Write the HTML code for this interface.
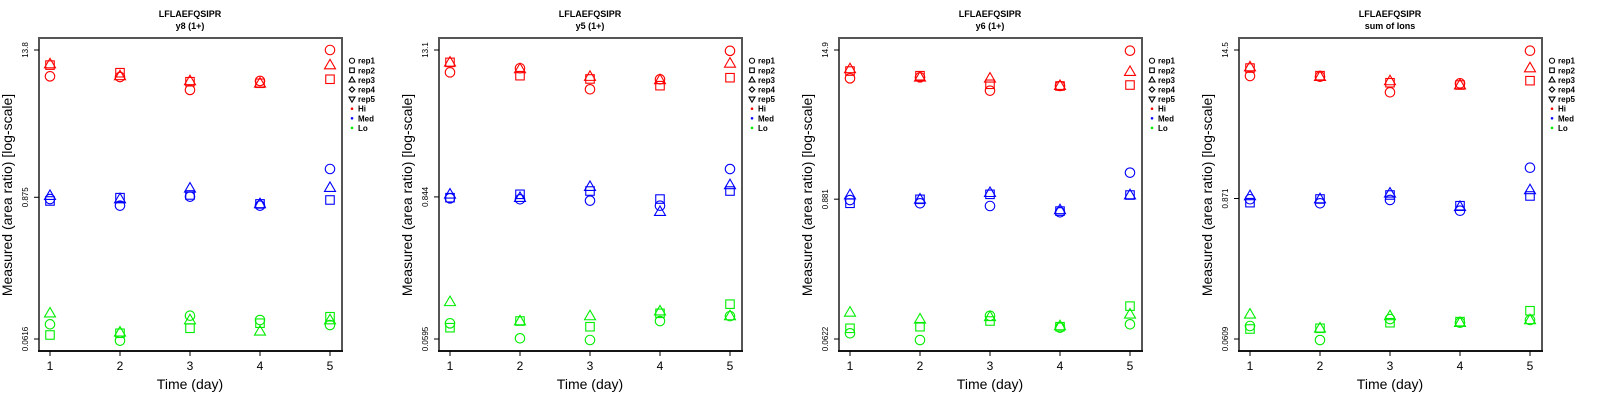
<!DOCTYPE html>
<html><head><meta charset="utf-8">
<style>
html,body{margin:0;padding:0;background:#fff;}
svg{display:block;font-family:"Liberation Sans",sans-serif;}
</style></head>
<body>
<svg id="chart" width="1600" height="400" viewBox="0 0 1600 400" xmlns="http://www.w3.org/2000/svg"></svg>
<script>
const days = [1, 2, 3, 4, 5];
const panelTitles = ["y8 (1+)", "y5 (1+)", "y6 (1+)", "sum of Ions"];
const peptide = "LFLAEFQSIPR";
const tickHi = [13.8, 13.1, 14.9, 14.5];
const tickMid = [0.875, 0.844, 0.881, 0.871];
const tickLo = [0.0616, 0.0595, 0.0622, 0.0609];
const tickLabels = [["13.8","0.875","0.0616"],["13.1","0.844","0.0595"],["14.9","0.881","0.0622"],["14.5","0.871","0.0609"]];
const groups = ["Hi", "Med", "Lo"];
const reps = ["rep1", "rep2", "rep3"];
// values[panel][group][rep] -> per day
const p1Hi = [[8.43,8.32,6.53,7.73,13.8],[10.4,9.02,7.62,7.40,7.98],[10.6,8.49,7.73,7.40,10.4]];
const p1Med = [[0.847,0.748,0.885,0.748,1.486],[0.817,0.869,0.914,0.773,0.832],[0.902,0.847,1.035,0.773,1.047]];
const p1Lo = [[0.0811,0.0597,0.0953,0.0879,0.0800],[0.0664,0.0686,0.0753,0.0828,0.0935],[0.0998,0.0698,0.0879,0.0711,0.0879]];
const p2Hi = [[8.63,9.32,6.29,7.58,12.9],[10.4,8.11,7.63,6.73,7.81],[10.4,9.19,7.97,7.49,10.2]];
const p2Med = [[0.822,0.807,0.787,0.716,1.42],[0.832,0.886,0.942,0.811,0.942],[0.886,0.832,1.021,0.640,1.055]];
const p2Lo = [[0.0797,0.0603,0.0584,0.0832,0.0912],[0.0735,0.0832,0.0748,0.0961,0.114],[0.119,0.0832,0.0914,0.100,0.0914]];
const p3Hi = [[8.71,8.87,6.89,7.53,14.7],[10.0,9.15,7.78,7.53,7.67],[10.4,8.87,8.71,7.57,9.87]];
const p3Med = [[0.867,0.815,0.774,0.687,1.456],[0.815,0.879,0.966,0.703,0.953],[0.953,0.879,0.995,0.718,0.953]];
const p3Lo = [[0.0693,0.0610,0.0966,0.0771,0.0822],[0.0762,0.0785,0.0875,0.0785,0.116],[0.103,0.0904,0.0948,0.0796,0.0993]];
const p4Hi = [[8.86,8.74,6.51,7.71,14.3],[10.3,8.92,7.80,7.47,8.11],[10.5,8.74,8.06,7.47,10.3]];
const p4Med = [[0.859,0.796,0.847,0.691,1.56],[0.805,0.863,0.931,0.760,0.914],[0.914,0.863,0.961,0.746,1.024]];
const p4Lo = [[0.0779,0.0597,0.0889,0.0829,0.0873],[0.0736,0.0746,0.0829,0.0846,0.104],[0.0972,0.0746,0.0942,0.0829,0.0873]];
const panelData = [[p1Hi,p1Med,p1Lo],[p2Hi,p2Med,p2Lo],[p3Hi,p3Med,p3Lo],[p4Hi,p4Med,p4Lo]];

const NS = "http://www.w3.org/2000/svg";
const svg = document.getElementById("chart");
const colors = {Hi:"#ff0000", Med:"#0000ff", Lo:"#00ee00"};
function mk(tag, attrs, parent){
  const e = document.createElementNS(NS, tag);
  for (const k in attrs) e.setAttribute(k, attrs[k]);
  (parent||svg).appendChild(e);
  return e;
}
function shape(rep, cx, cy, s, col, parent){
  let e;
  if (rep === 0) e = mk("circle",{cx:cx,cy:cy,r:s*0.95,fill:"none",stroke:col,"stroke-width":1.1},parent);
  else if (rep === 1) e = mk("rect",{x:cx-s*0.85,y:cy-s*0.85,width:s*1.7,height:s*1.7,fill:"none",stroke:col,"stroke-width":1.1},parent);
  else if (rep === 2) e = mk("polygon",{points:`${cx},${cy-s*1.15} ${cx-s*1.1},${cy+s*0.75} ${cx+s*1.1},${cy+s*0.75}`,fill:"none",stroke:col,"stroke-width":1.1},parent);
  else if (rep === 3) e = mk("polygon",{points:`${cx},${cy-s} ${cx-s},${cy} ${cx},${cy+s} ${cx+s},${cy}`,fill:"none",stroke:col,"stroke-width":1.1},parent);
  else e = mk("polygon",{points:`${cx},${cy+s*1.15} ${cx-s*1.1},${cy-s*0.75} ${cx+s*1.1},${cy-s*0.75}`,fill:"none",stroke:col,"stroke-width":1.1},parent);
  return e;
}

for (let p = 0; p < 4; p++){
  const ox = p*400;
  const g = mk("g",{transform:`translate(${ox},0)`});
  
  
  const L=39, R=342, T=38, B=351;
  const yTop=50, yBot=339;
  const lt=Math.log10(tickHi[p]), lb=Math.log10(tickLo[p]);
  const yScale = v => yTop + (lt - Math.log10(v))/(lt-lb)*(yBot-yTop);
  const xScale = d => 50 + (d-1)/4*280;

  const t1 = mk("text",{x:190,y:17,"text-anchor":"middle","font-size":9,"font-weight":"bold",fill:"#000"},g);
  t1.textContent = peptide;
  
  
  const t2 = mk("text",{x:190,y:29,"text-anchor":"middle","font-size":9,"font-weight":"bold",fill:"#000"},g);
  t2.textContent = panelTitles[p];
  
  

  const box = mk("rect",{x:L,y:T,width:R-L,height:B-T,fill:"none",stroke:"#555","stroke-width":2},g);
  
  
  mk("line",{x1:L-1,y1:B,x2:R+1,y2:B,stroke:"#000","stroke-width":1.5},g);

  // y ticks
  const tv = [tickHi[p], tickMid[p], tickLo[p]];
  for (let i=0;i<3;i++){
    const y = yScale(tv[i]);
    mk("line",{x1:34,y1:y,x2:L,y2:y,stroke:"#000","stroke-width":1},g);
    const tl = mk("text",{x:0,y:0,transform:`translate(28,${y}) rotate(-90)`,"text-anchor":"middle","font-size":8,fill:"#000"},g);
    tl.textContent = tickLabels[p][i];
    
    
  }
  // x ticks
  for (const d of days){
    const x = xScale(d);
    mk("line",{x1:x,y1:B,x2:x,y2:356,stroke:"#000","stroke-width":1},g);
    const xl = mk("text",{x:x,y:370,"text-anchor":"middle","font-size":12,fill:"#000"},g);
    xl.textContent = String(d);
    
    
  }
  const xt = mk("text",{x:190,y:389,"text-anchor":"middle","font-size":14,fill:"#000"},g);
  xt.textContent = "Time (day)";
  
  
  const yt = mk("text",{x:0,y:0,transform:`translate(12,195) rotate(-90)`,"text-anchor":"middle","font-size":14,fill:"#000"},g);
  yt.textContent = "Measured (area ratio) [log-scale]";
  
  

  // points
  for (let gi=0; gi<3; gi++){
    const col = colors[groups[gi]];
    for (let r=0; r<3; r++){
      const vals = panelData[p][gi][r];
      for (let di=0; di<days.length; di++){
        const e = shape(r, xScale(days[di]), yScale(vals[di]), 5, col, g);
        
        
      }
    }
  }

  // legend
  const leg = mk("g",{},g);
  
  
  const labels = ["rep1","rep2","rep3","rep4","rep5","Hi","Med","Lo"];
  for (let i=0;i<8;i++){
    const y = 60.7 + i*9.6;
    if (i<5){
      shape(i, 352, y, 2.7, "#000", leg);
    } else {
      mk("circle",{cx:352,cy:y,r:1.3,fill:colors[labels[i]]},leg);
    }
    const lt2 = mk("text",{x:358,y:y+3,"font-size":8,"font-weight":"bold",fill:"#000"},leg);
    lt2.textContent = labels[i];
    
    
  }
}
</script>
</body></html>
